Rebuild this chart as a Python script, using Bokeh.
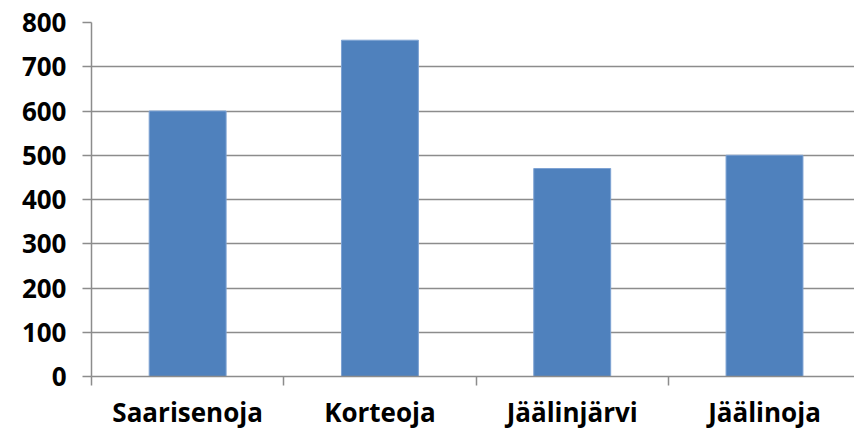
from bokeh.plotting import figure
from bokeh.models import Range1d, FixedTicker
from bokeh.embed import file_html
from bokeh.resources import INLINE

categories = ["Saarisenoja", "Korteoja", "Jäälinjärvi", "Jäälinoja"]
values = [600, 760, 470, 500]
y_ticks = [0, 100, 200, 300, 400, 500, 600, 700, 800]

x = list(range(len(categories)))
boundaries = [i - 0.5 for i in range(len(categories) + 1)]

GRAY = "#8c8c8c"
FONT = "Open Sans"

p = figure(width=854, height=432, output_backend="svg", toolbar_location=None,
           x_range=Range1d(-0.5, 3.468), y_range=Range1d(0, 800),
           min_border_left=91, min_border_right=0, min_border_top=22,
           min_border_bottom=40)
p.outline_line_color = None
p.background_fill_color = "white"
p.border_fill_color = "white"

p.vbar(x=x, top=values, width=0.4, fill_color="#4F81BD",
       line_color="#7DA2D3", line_width=1)

p.xgrid.grid_line_color = None
p.ygrid.grid_line_color = GRAY
p.ygrid.grid_line_width = 1.5
p.ygrid.ticker = FixedTicker(ticks=y_ticks)

ya = p.yaxis[0]
ya.ticker = FixedTicker(ticks=y_ticks)
ya.axis_line_color = GRAY
ya.axis_line_width = 1.5
ya.major_tick_line_color = GRAY
ya.major_tick_line_width = 1.5
ya.major_tick_out = 9
ya.major_tick_in = 0
ya.minor_tick_line_color = None
ya.major_label_standoff = 16
ya.major_label_text_font = FONT
ya.major_label_text_font_style = "bold"
ya.major_label_text_font_size = "26px"
ya.major_label_text_color = "black"

xa = p.xaxis[0]
xa.ticker = FixedTicker(ticks=x, minor_ticks=boundaries)
xa.major_label_overrides = {i: c for i, c in zip(x, categories)}
xa.axis_line_color = GRAY
xa.axis_line_width = 1.5
xa.major_tick_line_color = None
xa.major_tick_out = 0
xa.major_tick_in = 0
xa.minor_tick_line_color = GRAY
xa.minor_tick_line_width = 1.5
xa.minor_tick_out = 9
xa.minor_tick_in = 0
xa.major_label_standoff = 8
xa.major_label_text_font = FONT
xa.major_label_text_font_style = "bold"
xa.major_label_text_font_size = "26px"
xa.major_label_text_color = "black"

open("out.html", "w").write(file_html(p, INLINE))
